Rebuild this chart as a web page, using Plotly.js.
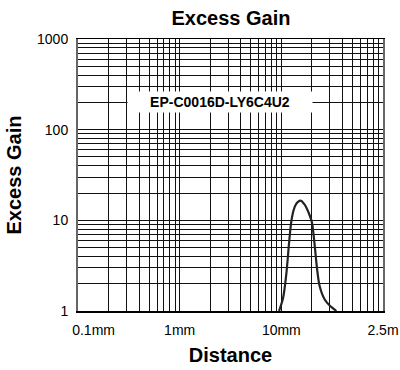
<!DOCTYPE html>
<html>
<head>
<meta charset="utf-8">
<script src="https://cdn.plot.ly/plotly-3.0.1.min.js"></script>
<style>html,body{margin:0;padding:0;background:#fff;}#chart{width:400px;height:370px;}</style>
</head>
<body>
<div id="chart"></div>
<script>
// Distance in mm, excess gain
const distanceMm = [9.5, 10.4, 11.2, 11.9, 12.5, 13.2, 14.0, 15.4, 16.9, 18.7, 20.0, 21.2, 22.4, 23.8, 26.7, 29.9, 34.8];
const excessGain = [1.0, 1.39, 2.57, 5.53, 9.48, 12.9, 15.2, 16.5, 15.0, 11.9, 9.48, 5.53, 3.0, 1.89, 1.34, 1.15, 1.0];

const xTickVals = [0.1, 1, 10, 100];
const xTickText = ['\u00a0\u00a0\u00a0\u00a0\u00a0\u00a0\u00a0\u00a00.1mm', '1mm', '10mm', '2.5m'];
const yTickVals = [1, 10, 100, 1000];
const yTickText = ['1', '10', '100', '1000'];
const modelLabel = 'EP-C0016D-LY6C4U2';

// gridline positions: every integer multiple within each decade
function decadeGrid(ticks) {
  const vals = [];
  for (let i = 0; i < ticks.length; i++) {
    vals.push(ticks[i]);
    if (i < ticks.length - 1) {
      for (let k = 2; k <= 9; k++) vals.push(ticks[i] * k);
    }
  }
  return vals;
}
function gridText(ticks, labels) {
  return decadeGrid(ticks).map(v => {
    const idx = ticks.indexOf(v);
    return idx >= 0 ? labels[idx] : '';
  });
}

const font = 'Arial, "Liberation Sans", sans-serif';

const trace = {
  x: distanceMm, y: excessGain, type: 'scatter', mode: 'lines',
  line: {color: '#222', width: 2.2, shape: 'spline', smoothing: 0.8},
  hoverinfo: 'skip'
};

const layout = {
  width: 400, height: 370,
  margin: {l: 78, r: 17, t: 39, b: 59},
  paper_bgcolor: '#fff', plot_bgcolor: '#fff',
  showlegend: false,
  font: {family: font, color: '#000', size: 14},
  title: {text: '<b>Excess Gain</b>', x: 0.5775, xanchor: 'center', y: 0.952, yanchor: 'middle',
          font: {family: font, size: 20, color: '#000'}},
  xaxis: {
    type: 'log', range: [-1, 2],
    tickmode: 'array', tickvals: decadeGrid(xTickVals), ticktext: gridText(xTickVals, xTickText),
    showgrid: true, gridcolor: '#111', gridwidth: 1,
    showline: true, linecolor: '#000', linewidth: 1.5, mirror: true,
    ticks: '', zeroline: false, ticklabelstandoff: 6,
    tickfont: {family: font, size: 14, color: '#000'},
    title: {text: '<b>Distance</b>', font: {family: font, size: 20, color: '#000'}, standoff: 10}
  },
  yaxis: {
    type: 'log', range: [0, 3],
    tickmode: 'array', tickvals: decadeGrid(yTickVals), ticktext: gridText(yTickVals, yTickText),
    showgrid: true, gridcolor: '#111', gridwidth: 1,
    showline: true, linecolor: '#666', linewidth: 2, mirror: true,
    ticks: '', zeroline: false, ticklabelstandoff: 5,
    tickfont: {family: font, size: 14, color: '#000'},
    title: {text: '<b>Excess Gain</b>', font: {family: font, size: 20, color: '#000'}, standoff: 10}
  },
  annotations: [{
    text: '<b>' + modelLabel + '</b>', xref: 'paper', yref: 'paper',
    x: 0.466, y: 0.768, xanchor: 'center', yanchor: 'middle', showarrow: false,
    bgcolor: '#fff', width: 180, height: 16, borderpad: 2,
    font: {family: font, size: 14, color: '#000'}
  }]
};

Plotly.newPlot('chart', [trace], layout, {displayModeBar: false, staticPlot: true});
</script>
</body>
</html>
